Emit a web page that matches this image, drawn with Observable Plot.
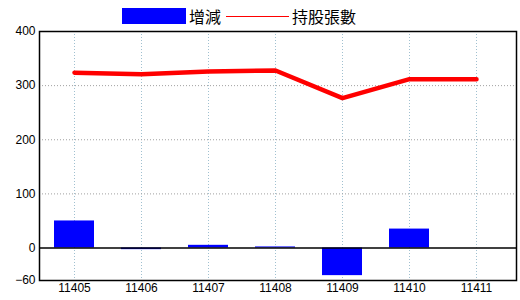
<!DOCTYPE html>
<html>
<head>
<meta charset="utf-8">
<script src="https://cdn.jsdelivr.net/npm/d3@7"></script>
<script src="https://cdn.jsdelivr.net/npm/@observablehq/plot@0.6"></script>
<style>
  body { margin: 0; background: #fff; }
  #wrap { position: relative; width: 520px; height: 300px; }
  #legend { position: absolute; top: 0; left: 0; width: 520px; height: 31px;
    font-family: "Noto Sans CJK TC", "Noto Sans CJK SC", sans-serif; font-size: 16px; color: #000; }
  #legend .sw1 { position: absolute; left: 122px; top: 8px; width: 64px; height: 16px; background: #0000ff; }
  #legend .t1 { position: absolute; left: 189px; top: 4px; line-height: 24px; }
  #legend .sw2 { position: absolute; left: 226px; top: 16px; width: 63px; height: 1px; background: #ff0000; }
  #legend .t2 { position: absolute; left: 292px; top: 4px; line-height: 24px; }
  svg text { font-family: "Liberation Sans", Arial, sans-serif; }
</style>
</head>
<body>
<div id="wrap">
  <div id="legend"><div class="sw1"></div><span class="t1">增減</span><div class="sw2"></div><span class="t2">持股張數</span></div>
  <div id="chart"></div>
</div>
<script>
const months = ["11405", "11406", "11407", "11408", "11409", "11410", "11411"];
const changes = [50, -3, 5, 2, -51, 35, 0];
const holdings = [324, 321, 326, 328, 277, 312, 312];
const yTicks = [-60, 0, 100, 200, 300, 400];
const yGrid = [100, 200, 300];

const data = months.map((m, i) => ({month: m, change: changes[i], hold: holdings[i]}));

const chart = Plot.plot({
  width: 520,
  height: 300,
  marginLeft: 39,
  marginRight: 4,
  marginTop: 31,
  marginBottom: 20,
  style: {fontSize: "12px", color: "#000", background: "#fff"},
  x: {type: "band", domain: months, range: [40.5, 509.5], paddingInner: 0.4, paddingOuter: 0.2, label: null},
  y: {domain: [-60, 400], label: null},
  marks: [
    Plot.ruleX(months, {stroke: "#a0c0d0", strokeDasharray: "1,2", strokeWidth: 1}),
    Plot.ruleY(yGrid, {stroke: "#a0a0a0", strokeDasharray: "1,2", strokeWidth: 1}),
    Plot.barY(data, {x: "month", y: "change", fill: "#0000ff"}),
    Plot.ruleY([0], {stroke: "#000", strokeWidth: 1.5}),
    Plot.lineY(data, {x: "month", y: "hold", stroke: "#ff0000", strokeWidth: 4.5, strokeLinejoin: "round"}),
    Plot.frame({stroke: "#000", strokeWidth: 1.5}),
    Plot.axisY(yTicks, {tickSize: 0, tickPadding: 4, fontSize: 12}),
    Plot.axisX(months, {tickSize: 0, tickPadding: 3, fontSize: 12})
  ]
});
document.getElementById("chart").appendChild(chart);
</script>
</body>
</html>
